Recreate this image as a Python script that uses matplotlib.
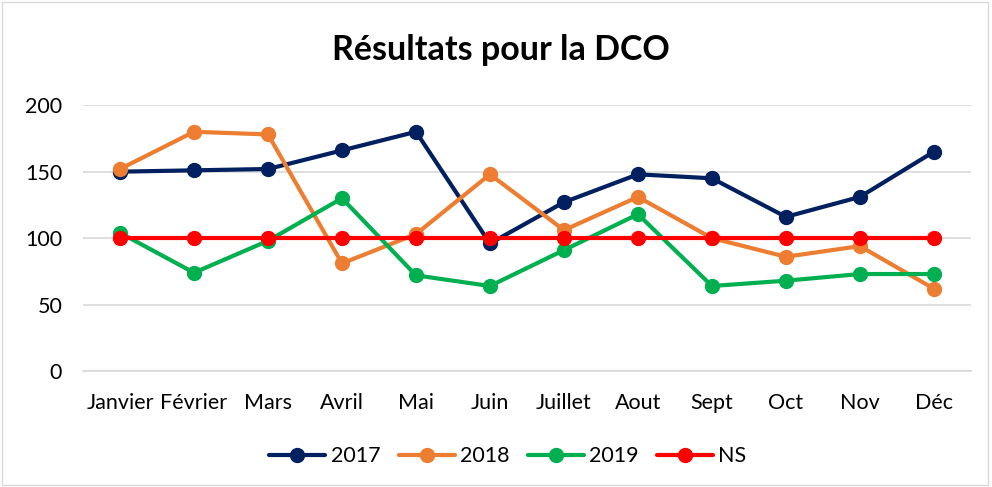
import matplotlib
matplotlib.use("Agg")
import matplotlib.pyplot as plt
from matplotlib.patches import Rectangle

months = ["Janvier", "Février", "Mars", "Avril", "Mai", "Juin", "Juillet",
          "Aout", "Sept", "Oct", "Nov", "Déc"]
s2017 = [150, 151, 152, 166, 180, 96, 127, 148, 145, 116, 131, 165]
s2018 = [152, 180, 178, 81, 103, 148, 106, 131, 100, 86, 94, 62]
s2019 = [104, 74, 98, 130, 72, 64, 91, 118, 64, 68, 73, 73]
sNS = [100] * 12
labels = ["2017", "2018", "2019", "NS"]
colors = ["#002060", "#ED7D31", "#00B050", "#FF0000"]

plt.rcParams['font.family'] = ['Lato', 'DejaVu Sans']

fig = plt.figure(figsize=(9.92, 4.87), dpi=100)
ax = fig.add_axes([0.0837, 0.238, 0.895, 0.546])

x = list(range(len(months)))
for data, lab, c in zip([s2017, s2018, s2019, sNS], labels, colors):
    ax.plot(x, data, color=c, lw=3, marker='o', markersize=10, label=lab,
            solid_capstyle='round')

ax.set_xlim(-0.5, len(months) - 0.5)
ax.set_ylim(0, 200)
ax.set_yticks([0, 50, 100, 150, 200])
ax.set_xticks(x)
ax.set_xticklabels(months)
ax.grid(axis='y', color='#d9d9d9', lw=1.2)
ax.set_axisbelow(True)
for sp in ['top', 'right', 'left']:
    ax.spines[sp].set_visible(False)
ax.spines['bottom'].set_color('#d9d9d9')
ax.spines['bottom'].set_linewidth(1.2)
ax.tick_params(axis='both', length=0, labelsize=15.5, colors='#000000')
ax.tick_params(axis='x', pad=16)
ax.tick_params(axis='y', pad=15)

fig.text(0.505, 0.897, "Résultats pour la DCO", ha='center', va='center',
         fontsize=24.5, fontweight='bold')

leg = fig.legend(loc='center', bbox_to_anchor=(0.512, 0.063), ncol=4, frameon=False,
                 fontsize=15.5, handlelength=2.6, columnspacing=0.85, handletextpad=0.25)

fig.patches.append(Rectangle((0.002, 0.004), 0.994, 0.992, transform=fig.transFigure,
                             fill=False, edgecolor='#d9d9d9', lw=1))

fig.savefig("out.png", dpi=100)
